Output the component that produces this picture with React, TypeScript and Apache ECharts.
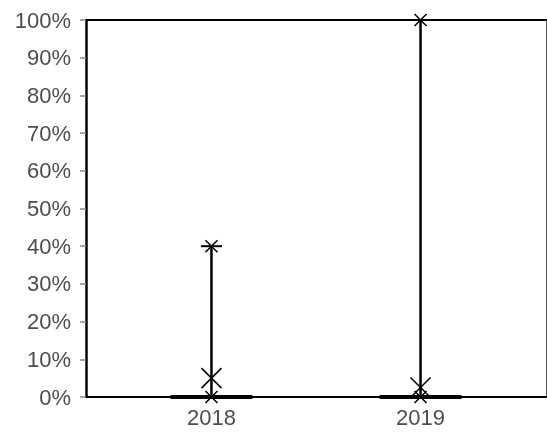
import React, { useEffect, useRef } from "react";
import * as echarts from "echarts";

const categories = ["2018", "2019"];
const minValues = [0, 0];
const q1Values = [0, 0];
const medianValues = [0, 0];
const q3Values = [0, 0];
const maxValues = [40, 100];
const meanValues = [5, 2.5];
const yTicks = [0, 10, 20, 30, 40, 50, 60, 70, 80, 90, 100];

export default function App() {
  const ref = useRef<HTMLDivElement>(null);
  useEffect(() => {
    if (!ref.current) return;
    const chart = echarts.init(ref.current, null, { renderer: "svg" });
    const data = categories.map((_, i) => [
      i + 1,
      minValues[i],
      q1Values[i],
      medianValues[i],
      q3Values[i],
      maxValues[i],
      meanValues[i],
    ]);
    const font = "Liberation Sans, Arial, Helvetica, sans-serif";
    const labelColor = "#4d4d4d";
    const halfBox = 0.195;
    const renderItem = (params: any, api: any) => {
      const x = api.value(0);
      const mn = api.value(1);
      const q1 = api.value(2);
      const med = api.value(3);
      const q3 = api.value(4);
      const mx = api.value(5);
      const mean = api.value(6);
      const pMin = api.coord([x, mn]);
      const pMax = api.coord([x, mx]);
      const bl = api.coord([x - halfBox, q1]);
      const br = api.coord([x + halfBox, q1]);
      const tl = api.coord([x - halfBox, q3]);
      const tr = api.coord([x + halfBox, q3]);
      const ml = api.coord([x - halfBox, med]);
      const mr = api.coord([x + halfBox, med]);
      const pMean = api.coord([x, mean]);
      const black = "#000";
      const line = (x1: number, y1: number, x2: number, y2: number, w: number) => ({
        type: "line",
        shape: { x1, y1, x2, y2 },
        style: { stroke: black, lineWidth: w },
      });
      const asterisk = (p: number[]) => [
        line(p[0] - 10.5, p[1], p[0] + 10.5, p[1], 2),
        line(p[0] - 6, p[1] - 6, p[0] + 6, p[1] + 6, 1.5),
        line(p[0] - 6, p[1] + 6, p[0] + 6, p[1] - 6, 1.5),
      ];
      const cross = (p: number[]) => [
        line(p[0] - 10, p[1] - 10, p[0] + 10, p[1] + 10, 1.5),
        line(p[0] - 10, p[1] + 10, p[0] + 10, p[1] - 10, 1.5),
      ];
      return {
        type: "group",
        children: [
          line(pMin[0], pMin[1], pMax[0], pMax[1], 2.5),
          {
            type: "polygon",
            shape: { points: [bl, br, tr, tl] },
            style: { fill: "none", stroke: black, lineWidth: 4 },
          },
          line(ml[0], ml[1], mr[0], mr[1], 4),
          ...asterisk(pMax),
          ...asterisk(pMin),
          ...cross(pMean),
        ],
      };
    };
    chart.setOption({
      animation: false,
      grid: { left: 86, right: 1, top: 20, bottom: 35, containLabel: false },
      xAxis: [
        {
          type: "value",
          min: 0.4,
          max: 2.6,
          splitLine: { show: false },
          axisLine: { show: true, onZero: false, lineStyle: { color: "#000", width: 2 } },
          axisTick: { show: false },
          axisLabel: {
            customValues: [1, 2],
            formatter: (v: number) => categories[Math.round(v) - 1] ?? "",
            color: labelColor,
            fontSize: 22,
            fontFamily: font,
            margin: 9,
          },
        },
        {
          type: "value",
          position: "top",
          min: 0.4,
          max: 2.6,
          splitLine: { show: false },
          axisLine: { show: true, onZero: false, lineStyle: { color: "#000", width: 2 } },
          axisTick: { show: false },
          axisLabel: { show: false },
        },
      ],
      yAxis: [
        {
          type: "value",
          min: 0,
          max: 100,
          interval: 10,
          splitLine: { show: false },
          axisLine: { show: true, onZero: false, lineStyle: { color: "#000", width: 2.5 } },
          axisTick: { show: true, length: 6, lineStyle: { color: "#888", width: 1.5 }, customValues: yTicks },
          axisLabel: {
            formatter: "{value}%",
            color: labelColor,
            fontSize: 22,
            fontFamily: font,
            margin: 15,
          },
        },
        {
          type: "value",
          position: "right",
          min: 0,
          max: 100,
          splitLine: { show: false },
          axisLine: { show: true, onZero: false, lineStyle: { color: "#555", width: 1 } },
          axisTick: { show: false },
          axisLabel: { show: false },
        },
      ],
      series: [
        {
          type: "custom",
          xAxisIndex: 0,
          yAxisIndex: 0,
          renderItem,
          data,
          clip: false,
          z: 10,
        },
      ],
    });
    return () => chart.dispose();
  }, []);
  return (
    <div
      ref={ref}
      style={{ position: "fixed", left: 0, top: 0, width: 547, height: 432 }}
    />
  );
}
